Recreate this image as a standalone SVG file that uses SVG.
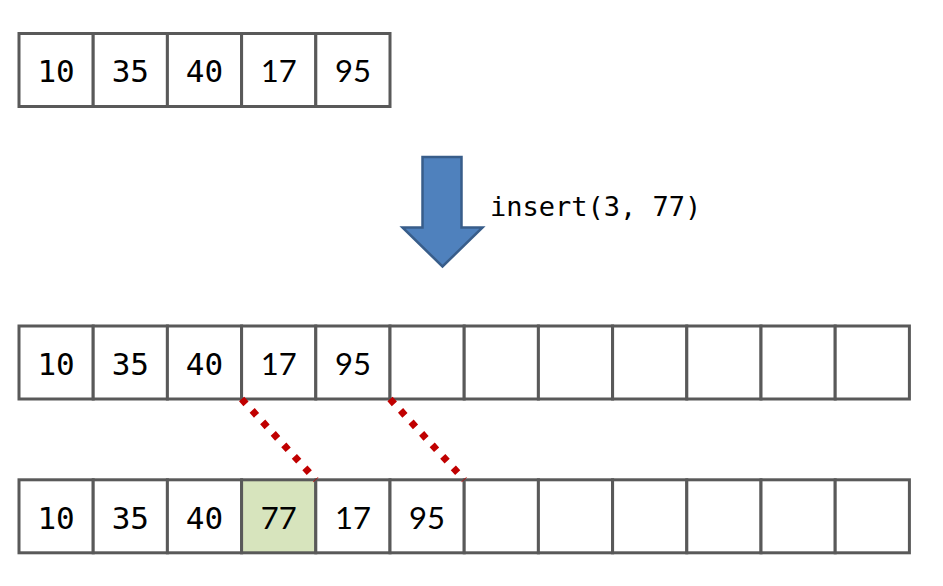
<svg xmlns="http://www.w3.org/2000/svg" width="943" height="586" viewBox="0 0 943 586">
<style>
.cell{fill:#ffffff;stroke:#595959;stroke-width:3}
.hl{fill:#D7E4BD}
.m{font-family:"DejaVu Sans Mono",monospace;font-size:31px;fill:#000;text-anchor:middle}
.p{font-family:Lato,"Liberation Sans",sans-serif;font-size:31px;fill:#000;text-anchor:middle}
.dot{stroke:#C00000;stroke-width:7;stroke-dasharray:6.5 9.1;fill:none}
.lbl{font-family:"DejaVu Sans Mono",monospace;font-size:27px;fill:#000}
</style>
<rect width="943" height="586" fill="#fff"/>
<g id="row1">
<g id="r1c0"><rect class="cell" x="19" y="33.5" width="74.2" height="73"/><text class="m" x="56.1" y="82">10</text></g>
<g id="r1c1"><rect class="cell" x="93.2" y="33.5" width="74.2" height="73"/><text class="m" x="130.3" y="82">35</text></g>
<g id="r1c2"><rect class="cell" x="167.4" y="33.5" width="74.2" height="73"/><text class="m" x="204.5" y="82">40</text></g>
<g id="r1c3"><rect class="cell" x="241.6" y="33.5" width="74.2" height="73"/><text class="p" x="278.7" y="82">17</text></g>
<g id="r1c4"><rect class="cell" x="315.8" y="33.5" width="74.2" height="73"/><text class="p" x="352.9" y="82">95</text></g>
</g>
<g id="row2">
<g id="r2c0"><rect class="cell" x="19" y="326" width="74.2" height="73"/><text class="m" x="56.1" y="374.5">10</text></g>
<g id="r2c1"><rect class="cell" x="93.2" y="326" width="74.2" height="73"/><text class="m" x="130.3" y="374.5">35</text></g>
<g id="r2c2"><rect class="cell" x="167.4" y="326" width="74.2" height="73"/><text class="m" x="204.5" y="374.5">40</text></g>
<g id="r2c3"><rect class="cell" x="241.6" y="326" width="74.2" height="73"/><text class="p" x="278.7" y="374.5">17</text></g>
<g id="r2c4"><rect class="cell" x="315.8" y="326" width="74.2" height="73"/><text class="p" x="352.9" y="374.5">95</text></g>
<g id="r2c5"><rect class="cell" x="390" y="326" width="74.2" height="73"/></g>
<g id="r2c6"><rect class="cell" x="464.2" y="326" width="74.2" height="73"/></g>
<g id="r2c7"><rect class="cell" x="538.4" y="326" width="74.2" height="73"/></g>
<g id="r2c8"><rect class="cell" x="612.6" y="326" width="74.2" height="73"/></g>
<g id="r2c9"><rect class="cell" x="686.8" y="326" width="74.2" height="73"/></g>
<g id="r2c10"><rect class="cell" x="761" y="326" width="74.2" height="73"/></g>
<g id="r2c11"><rect class="cell" x="835.2" y="326" width="74.2" height="73"/></g>
</g>
<g id="row3">
<g id="r3c0"><rect class="cell" x="19" y="479.8" width="74.2" height="73"/><text class="m" x="56.1" y="528.5">10</text></g>
<g id="r3c1"><rect class="cell" x="93.2" y="479.8" width="74.2" height="73"/><text class="m" x="130.3" y="528.5">35</text></g>
<g id="r3c2"><rect class="cell" x="167.4" y="479.8" width="74.2" height="73"/><text class="m" x="204.5" y="528.5">40</text></g>
<g id="r3c3"><rect class="cell hl" x="241.6" y="479.8" width="74.2" height="73"/><text class="p" x="278.7" y="528.5">77</text></g>
<g id="r3c4"><rect class="cell" x="315.8" y="479.8" width="74.2" height="73"/><text class="p" x="352.9" y="528.5">17</text></g>
<g id="r3c5"><rect class="cell" x="390" y="479.8" width="74.2" height="73"/><text class="p" x="427.1" y="528.5">95</text></g>
<g id="r3c6"><rect class="cell" x="464.2" y="479.8" width="74.2" height="73"/></g>
<g id="r3c7"><rect class="cell" x="538.4" y="479.8" width="74.2" height="73"/></g>
<g id="r3c8"><rect class="cell" x="612.6" y="479.8" width="74.2" height="73"/></g>
<g id="r3c9"><rect class="cell" x="686.8" y="479.8" width="74.2" height="73"/></g>
<g id="r3c10"><rect class="cell" x="761" y="479.8" width="74.2" height="73"/></g>
<g id="r3c11"><rect class="cell" x="835.2" y="479.8" width="74.2" height="73"/></g>
</g>
<g id="connectors">
<path class="dot" d="M241.6 399 L315.8 479.8"/>
<path class="dot" d="M390 399 L464.2 479.8"/>
<path id="insert-arrow" d="M422.5 157 H461.5 V227.5 H482.5 L442.5 266.5 L402.5 227.5 H422.5 Z" fill="#4F81BD" stroke="#385D8A" stroke-width="2.5" stroke-linejoin="miter"/>
<text class="lbl" x="490" y="216">insert(3, 77)</text>
</g>
</svg>
